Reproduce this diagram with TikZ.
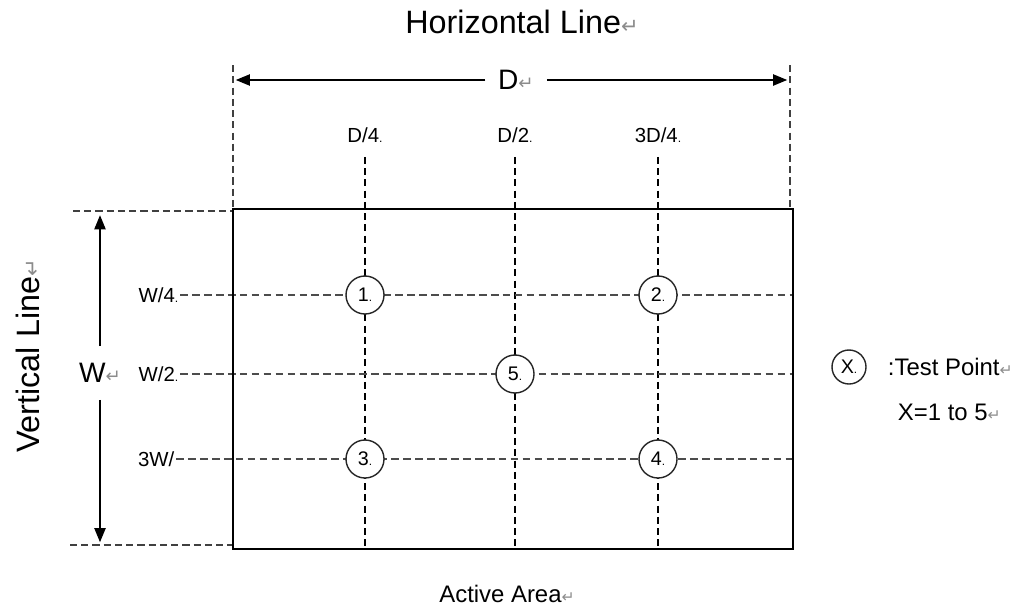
\documentclass[tikz,border=0pt]{standalone}
\usepackage{fontspec}
\setmainfont{Liberation Sans}
\newfontfamily\symfont{DejaVu Sans}
\usetikzlibrary{arrows.meta}
\newcommand\retmark{{\color{black!45}\scalebox{0.65}{\symfont ↵}}}
\newcommand\dotmark{{\scalebox{0.6}{.}}}
\tikzset{
  vgrid/.style={line width=0.9pt, dash pattern=on 5pt off 3pt},
  hgrid/.style={line width=0.9pt, black!70, dash pattern=on 5.5pt off 3pt},
  ext/.style={line width=0.9pt, black!75, dash pattern=on 5pt off 3pt},
  frame/.style={line width=2.1pt},
  dimline/.style={line width=1pt, -{Triangle[length=10pt,width=8pt]}, shorten >=2pt},
  testpt/.style={circle, draw, line width=1pt, black!85, text=black, fill=white,
    minimum size=0.95cm, inner sep=0pt, font=\fontsize{14}{16}\selectfont},
  lbl/.style={font=\fontsize{14.5}{16}\selectfont, inner sep=1pt},
  title/.style={font=\fontsize{23}{26}\selectfont},
  note/.style={font=\fontsize{17}{20}\selectfont},
  dimlbl/.style={font=\fontsize{20}{22}\selectfont}
}
\begin{document}
\begin{tikzpicture}[x=0.025cm,y=-0.025cm]
\useasboundingbox (0,0) rectangle (1028,612);
\coordinate (tl) at (233,209);
\coordinate (br) at (793,549);
% titles
\node[title] (htitle) at (522,22) {Horizontal Line\retmark};
\node[title, rotate=90] (vtitle) at (28,356) {Vertical Line\retmark};
\node[note] (active) at (507,594) {Active Area\retmark};
% D dimension
\coordinate (dl) at (233,65);
\coordinate (dr) at (790,65);
\draw[ext] (dl) -- (tl);
\draw[ext] (dr) -- (dr |- tl);
\node[dimlbl, inner xsep=9pt] (D) at (516,80) {D\retmark};
\draw[dimline] (D) -- (dl |- D);
\draw[dimline] (D) -- (dr |- D);
% W dimension
\coordinate (wt) at (73,211);
\coordinate (wb) at (70,545);
\draw[ext] (wt) -- (wt -| tl);
\draw[ext] (wb) -- (wb -| tl);
\node[dimlbl, inner ysep=12pt, inner xsep=0pt] (W) at (100,373) {W\retmark};
\draw[dimline, shorten >=3pt] (W) -- (W |- wt);
\draw[dimline] (W) -- (W |- wb);
% grid labels
\node[lbl] (d4) at (365,135) {D/4\dotmark};
\node[lbl] (d2) at (515,135) {D/2\dotmark};
\node[lbl] (d34) at (658,135) {3D/4\dotmark};
\node[lbl, anchor=east] (w4) at (180,295) {W/4\dotmark};
\node[lbl, anchor=east] (w2) at (180,374) {W/2\dotmark};
\node[lbl, anchor=east] (w34) at (176,459) {3W/};
% grid lines
\draw[vgrid, shorten <=9pt] (d4) -- (d4 |- br);
\draw[vgrid, shorten <=9pt] (d2) -- (d2 |- br);
\draw[vgrid, shorten <=9pt] (d34) -- (d34 |- br);
\draw[hgrid] (w4) -- (w4 -| br);
\draw[hgrid] (w2) -- (w2 -| br);
\draw[hgrid] (w34) -- (w34 -| br);
% active area
\draw[frame] (tl) rectangle (br);
% test points
\node[testpt] (p1) at (d4 |- w4) {1\dotmark};
\node[testpt] (p2) at (d34 |- w4) {2\dotmark};
\node[testpt] (p5) at (d2 |- w2) {5\dotmark};
\node[testpt] (p3) at (d4 |- w34) {3\dotmark};
\node[testpt] (p4) at (d34 |- w34) {4\dotmark};
% legend
\node[testpt, minimum size=0.85cm] (key) at (849,367) {X\dotmark};
\node[note, anchor=west] (keytxt) at (883,367) {:Test Point\retmark};
\node[note, anchor=west] (range) at (893,412) {X=1 to 5\retmark};
\end{tikzpicture}
\end{document}
